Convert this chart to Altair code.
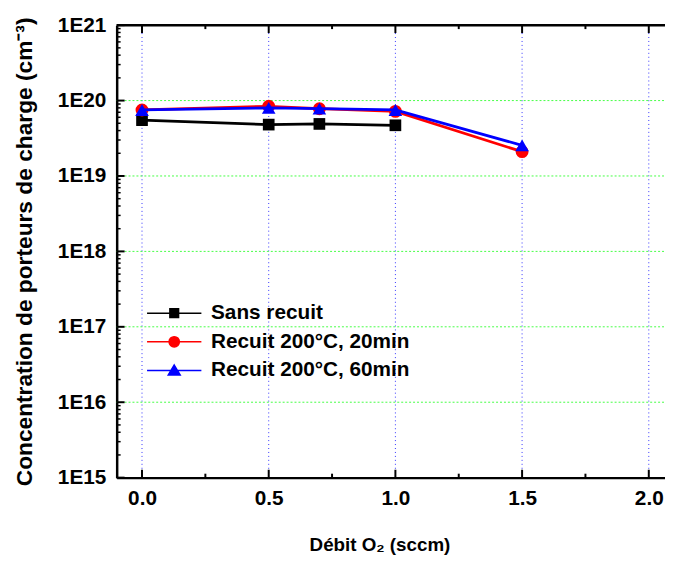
import altair as alt
import pandas as pd

# ---- data ----
series_names = ["Sans recuit", "Recuit 200°C, 20min", "Recuit 200°C, 60min"]
series_colors = ["#000000", "#ff0000", "#0000ff"]
series_shapes = ["square", "circle", "triangle-up"]
series_sizes = [140, 170, 190]

x_sans = [0.0, 0.5, 0.7, 1.0]
y_sans = [5.5e19, 4.8e19, 4.9e19, 4.7e19]
x_r20 = [0.0, 0.5, 0.7, 1.0, 1.5]
y_r20 = [7.5e19, 8.4e19, 7.8e19, 7.2e19, 2.1e19]
x_r60 = [0.0, 0.5, 0.7, 1.0, 1.5]
y_r60 = [7.5e19, 8.0e19, 7.8e19, 7.5e19, 2.55e19]

x_major = [0.0, 0.5, 1.0, 1.5, 2.0]
x_minor = [0.25, 0.75, 1.25, 1.75]
y_major = [1e15, 1e16, 1e17, 1e18, 1e19, 1e20, 1e21]
y_grid = [1e16, 1e17, 1e18, 1e19, 1e20]
y_minor = [m * 10.0 ** e for e in range(15, 21) for m in range(2, 10)]

x_title = "Débit O₂ (sccm)"
y_title = "Concentration de porteurs de charge (cm⁻³)"

# legend symbols: line with marker in the middle (unit box -1..1, line drawn wider)
legend_paths = [
    "M-2,0L2,0M-0.32,-0.32L0.32,-0.32L0.32,0.32L-0.32,0.32Z",
    "M-2,0L2,0M-0.38,0A0.38,0.38 0 1,0 0.38,0A0.38,0.38 0 1,0 -0.38,0Z",
    "M-2,0L2,0M0,-0.4L0.44,0.34L-0.44,0.34Z",
]

W, H = 555, 458
FONT = "Liberation Sans"

rows = []
for name, xs, ys in [(series_names[0], x_sans, y_sans),
                     (series_names[1], x_r20, y_r20),
                     (series_names[2], x_r60, y_r60)]:
    for xv, yv in zip(xs, ys):
        rows.append({"series": name, "x": xv, "y": yv})
df = pd.DataFrame(rows)

xscale = alt.Scale(domain=[-0.1, 2.064], nice=False, zero=False)
yscale = alt.Scale(type="log", domain=[1e15, 1e21], nice=False)

x_axis = alt.Axis(values=x_major, format=".1f", grid=False, ticks=False, tickSize=0,
                  labelFont=FONT, labelFontSize=21, labelFontWeight="bold", labelColor="black",
                  labelPadding=10, domainColor="black", domainWidth=2.5,
                  title=x_title, titleFont=FONT, titleFontSize=19, titleFontWeight="bold",
                  titleColor="black", titleX=266, titleY=68, titleAlign="center",
                  titleBaseline="middle", titleAnchor="middle")
y_axis = alt.Axis(values=y_major, labelExpr="'1E' + round(log(datum.value) / LN10)",
                  grid=False, ticks=False, tickSize=0,
                  labelFont=FONT, labelFontSize=21, labelFontWeight="bold", labelColor="black",
                  labelPadding=11, domainColor="black", domainWidth=2.5,
                  title=y_title, titleFont=FONT, titleFontSize=23, titleFontWeight="bold",
                  titleColor="black", titleX=-93, titleY=H / 2, titleAngle=270,
                  titleAlign="center", titleBaseline="middle")

# grid lines
vgrid = alt.Chart(pd.DataFrame({"x": x_major})).mark_rule(
    color="#3333ff", strokeWidth=1, strokeDash=[1, 3]).encode(
    x=alt.X("x:Q", scale=xscale, axis=x_axis), y=alt.value(0), y2=alt.value(H))
hgrid = alt.Chart(pd.DataFrame({"y": y_grid})).mark_rule(
    color="#44ff44", strokeWidth=1, strokeDash=[2, 2]).encode(
    y=alt.Y("y:Q", scale=yscale, axis=y_axis), x=alt.value(0), x2=alt.value(W))

# inward ticks
tick_style = dict(color="black", strokeWidth=2)
xt_bot_major = alt.Chart(pd.DataFrame({"x": x_major})).mark_rule(**tick_style).encode(
    x=alt.X("x:Q", scale=xscale), y=alt.value(H), y2=alt.value(H - 8))
xt_top_major = alt.Chart(pd.DataFrame({"x": x_major})).mark_rule(**tick_style).encode(
    x=alt.X("x:Q", scale=xscale), y=alt.value(0), y2=alt.value(8))
xt_bot_minor = alt.Chart(pd.DataFrame({"x": x_minor})).mark_rule(**tick_style).encode(
    x=alt.X("x:Q", scale=xscale), y=alt.value(H), y2=alt.value(H - 4))
xt_top_minor = alt.Chart(pd.DataFrame({"x": x_minor})).mark_rule(**tick_style).encode(
    x=alt.X("x:Q", scale=xscale), y=alt.value(0), y2=alt.value(4))
yt_major = alt.Chart(pd.DataFrame({"y": y_major})).mark_rule(**tick_style).encode(
    y=alt.Y("y:Q", scale=yscale), x=alt.value(0), x2=alt.value(8))
yt_minor = alt.Chart(pd.DataFrame({"y": y_minor})).mark_rule(color="black", strokeWidth=1.5).encode(
    y=alt.Y("y:Q", scale=yscale), x=alt.value(0), x2=alt.value(4))

top_line = alt.Chart(pd.DataFrame({"k": [0]})).mark_rule(color="black", strokeWidth=2.5).encode(
    x=alt.value(0), x2=alt.value(W), y=alt.value(0))

series_layers = []
for name, color, shape, size in zip(series_names, series_colors, series_shapes, series_sizes):
    base = alt.Chart(df).transform_filter(alt.datum.series == name)
    ln = base.mark_line(color=color, strokeWidth=2.8).encode(
        x=alt.X("x:Q", scale=xscale), y=alt.Y("y:Q", scale=yscale))
    pt = base.mark_point(shape=shape, filled=True, color=color, size=size, opacity=1).encode(
        x=alt.X("x:Q", scale=xscale), y=alt.Y("y:Q", scale=yscale))
    series_layers += [ln, pt]

leg = dict(orient="none", legendX=43.75, legendY=277, title=None, padding=0,
           labelFont=FONT, labelFontSize=21, labelFontWeight="bold", labelColor="black",
           labelLimit=500, symbolSize=756, symbolStrokeWidth=1.5, labelOffset=22.75,
           rowPadding=4)
legend_layer = alt.Chart(pd.DataFrame({"series": series_names})).mark_point(
    filled=True, opacity=1, clip=True).encode(
    x=alt.value(-200), y=alt.value(-200),
    shape=alt.Shape("series:N", scale=alt.Scale(domain=series_names, range=legend_paths),
                    legend=alt.Legend(**leg)),
    fill=alt.Fill("series:N", scale=alt.Scale(domain=series_names, range=series_colors),
                  legend=alt.Legend(**leg)),
    stroke=alt.Stroke("series:N", scale=alt.Scale(domain=series_names, range=series_colors),
                      legend=alt.Legend(**leg)),
)

chart = alt.layer(
    vgrid, hgrid, xt_bot_major, xt_top_major, xt_bot_minor, xt_top_minor,
    yt_major, yt_minor, top_line, *series_layers, legend_layer
).properties(
    width=W, height=H,
    autosize=alt.AutoSizeParams(type="none"),
    padding={"left": 110, "top": 14, "right": 0, "bottom": 80},
    background="white",
).configure_view(stroke=None)

chart.save("out.html", embed_options={"renderer": "svg", "actions": False})
